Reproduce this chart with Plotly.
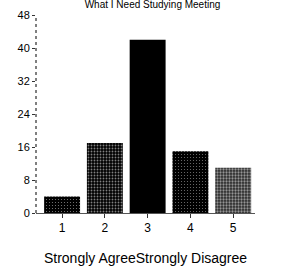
import plotly.graph_objects as go

categories = [1, 2, 3, 4, 5]
counts = [4, 17, 42, 15, 11]
y_ticks = [0, 8, 16, 24, 32, 40, 48]
title_text = "What I Need Studying Meeting"
x_title = "Strongly AgreeStrongly Disagree"

bg = ["#000000", "#000000", "#000000", "#000000", "#2a2a2a"]
fg = ["#8a8a8a", "#ffffff", "#000000", "#ffffff", "#e0e0e0"]
sol = [0.12, 0.3, 0.0, 0.1, 0.45]

fig = go.Figure()
fig.add_trace(go.Bar(
    x=categories, y=counts, width=0.84,
    marker=dict(color=bg, line=dict(width=0),
                pattern=dict(shape=".", bgcolor=bg, fgcolor=fg, size=3, solidity=sol)),
))
fig.update_layout(
    width=305, height=275,
    margin=dict(l=36, r=50, t=9, b=62),
    paper_bgcolor="white", plot_bgcolor="white",
    showlegend=False, bargap=0.16,
    title=dict(text=title_text, x=0.5, xanchor="center", y=0.985, yref="container",
               yanchor="middle", font=dict(family="Liberation Sans, Arial", size=10, color="black")),
    font=dict(family="Liberation Sans, Arial", color="black"),
)
fig.update_xaxes(
    range=[0.39, 5.51], tickvals=categories, ticktext=[str(c) for c in categories],
    ticks="outside", ticklen=4, tickcolor="#333333", showgrid=False, zeroline=False,
    showline=True, linecolor="#555555", linewidth=1,
    tickfont=dict(size=12),
    title=dict(text=x_title, font=dict(size=14), standoff=18),
)
fig.update_yaxes(
    range=[0, 48], tickvals=y_ticks, ticks="outside", ticklen=3, tickcolor="#333333",
    showgrid=False, zeroline=False, showline=False,
    tickfont=dict(size=11),
)
fig.add_shape(type="line", xref="paper", yref="paper", x0=0, x1=0, y0=0, y1=1,
              line=dict(color="black", width=1, dash="dot"))
fig.write_html("out.html", config={"displayModeBar": False},
               post_script="document.body.style.margin='0px';")
